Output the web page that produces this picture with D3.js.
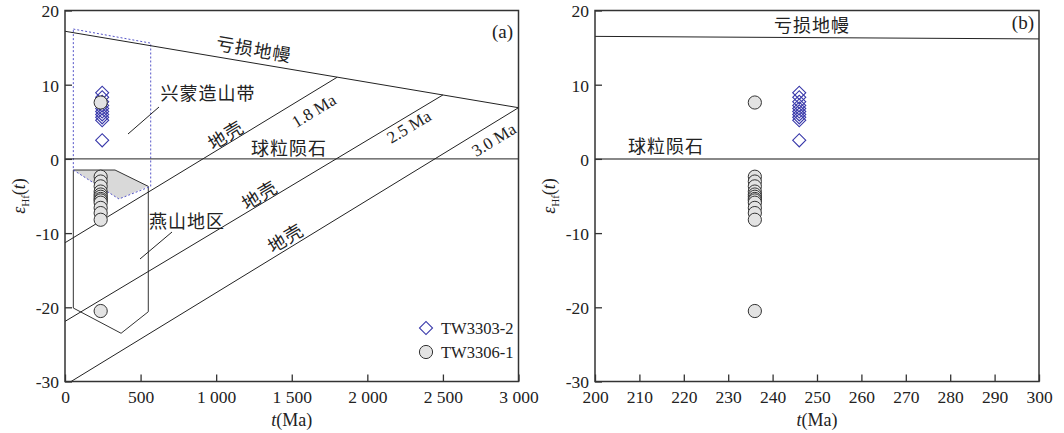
<!DOCTYPE html>
<html><head><meta charset="utf-8">
<script src="https://cdn.jsdelivr.net/npm/d3@7"></script>
<style>
body{margin:0;background:#fff;}
svg{display:block;}
.tick text{font-family:"Liberation Serif","Times New Roman",serif;font-size:17.5px;fill:#222;}
.cn{font-family:"Noto Sans CJK SC",sans-serif;fill:#222;letter-spacing:1px;}
.en{font-family:"Liberation Serif","Times New Roman",serif;fill:#222;}
</style></head>
<body>
<script>
// ---------- data ----------
const tw3303Age = 246;              // Ma
const tw3303Eps = [8.9, 8.3, 7.7, 7.2, 6.8, 6.4, 6.0, 5.6, 5.2, 2.5];
const tw3306Age = 236;              // Ma
const tw3306Eps = [7.6, -2.4, -3.05, -3.7, -4.4, -4.8, -5.1, -5.4, -5.6, -5.9, -6.6, -7.3, -8.2, -20.5];

const dmLine   = [[0, 17.2], [3000, 6.9]];          // depleted mantle
const chur     = [[0, 0], [3000, 0]];
const crust18  = [[0, -11.3], [1800, 11.0]];
const crust25  = [[0, -21.9], [2500, 8.62]];
const crust30  = [[40, -30], [3000, 6.9]];

const xingmengPoly = [[55, 17.5], [567, 15.6], [567, -3.7], [357, -5.4], [55, -1.5]];
const yanshanPoly  = [[55, -1.5], [331, -1.5], [551, -3.7], [551, -20.6], [371, -23.5], [55, -20.1]];
const overlapPoly  = [[55, -1.5], [331, -1.5], [551, -3.7], [357, -5.4]];

const xTicksA = [0, 500, 1000, 1500, 2000, 2500, 3000];
const xTicksB = [200, 210, 220, 230, 240, 250, 260, 270, 280, 290, 300];
const yTicks  = [20, 10, 0, -10, -20, -30];
const legendNames = ["TW3303-2", "TW3306-1"];

// ---------- layout ----------
const W = 1064, H = 433;
const svg = d3.select("body").append("svg").attr("width", W).attr("height", H);
const yTop = 10.5, yBot = 381.5;

function fmt(d){ return d >= 1000 ? d3.format(",")(d).replace(",", " ") : String(d); }

function makePanel(x0, x1, xDomain, xTicks){
  const x = d3.scaleLinear().domain(xDomain).range([x0, x1]);
  const y = d3.scaleLinear().domain([-30, 20]).range([yBot, yTop]);
  const g = svg.append("g");
  const clipId = "c" + Math.round(x0);
  svg.append("clipPath").attr("id", clipId).append("rect")
    .attr("x", x0).attr("y", yTop).attr("width", x1 - x0).attr("height", yBot - yTop);
  const plot = g.append("g").attr("clip-path", `url(#${clipId})`);
  const ax = g.append("g").attr("transform", `translate(0,${yBot})`)
    .call(d3.axisBottom(x).tickValues(xTicks).tickSize(-7).tickPadding(9).tickFormat(fmt));
  const ay = g.append("g").attr("transform", `translate(${x0},0)`)
    .call(d3.axisLeft(y).tickValues(yTicks).tickSize(-7).tickPadding(6).tickFormat(d => String(d)));
  [ax, ay].forEach(a => { a.select(".domain").remove(); a.selectAll(".tick line").attr("stroke", "#333").attr("stroke-width", 1.3); });
  ay.selectAll(".tick text").attr("dy", "0.36em");
  g.append("rect").attr("x", x0).attr("y", yTop).attr("width", x1 - x0).attr("height", yBot - yTop)
    .attr("fill", "none").attr("stroke", "#333").attr("stroke-width", 1.5);
  const xt = g.append("text").attr("class", "en").attr("x", (x0 + x1) / 2).attr("y", 426)
    .attr("text-anchor", "middle").attr("font-size", 18);
  xt.append("tspan").attr("font-style", "italic").text("t");
  xt.append("tspan").text("(Ma)");
  const yt = g.append("text").attr("class", "en").attr("transform", `translate(${x0 - 40},196) rotate(-90)`)
    .attr("text-anchor", "middle").attr("font-size", 18);
  yt.append("tspan").attr("font-style", "italic").text("ε");
  yt.append("tspan").attr("font-size", 11).attr("dy", 4).text("Hf");
  yt.append("tspan").attr("dy", -4).text("(");
  yt.append("tspan").attr("font-style", "italic").text("t");
  yt.append("tspan").text(")");
  return {x, y, g, plot};
}

const line = (s) => d3.line().x(d => s.x(d[0])).y(d => s.y(d[1]));
const diamondPath = d3.symbol().type(d3.symbolSquare).size(85);

function drawPoints(P, layer){
  layer.selectAll(".dm").data(tw3303Eps).join("path")
    .attr("d", diamondPath).attr("transform", d => `translate(${P.x(tw3303Age)},${P.y(d)}) rotate(45)`)
    .attr("fill", "none").attr("stroke", "#3b3bab").attr("stroke-width", 1.1);
  layer.selectAll(".ci").data(tw3306Eps).join("circle")
    .attr("cx", P.x(tw3306Age)).attr("cy", d => P.y(d)).attr("r", 6.6)
    .attr("fill", "#e3e3e3").attr("stroke", "#333").attr("stroke-width", 1);
}

// ---------- panel (a) ----------
const A = makePanel(65, 518.5, [0, 3000], xTicksA);
const poly = d3.line().x(d => A.x(d[0])).y(d => A.y(d[1])).curve(d3.curveLinearClosed);
A.plot.append("path").attr("d", poly(overlapPoly)).attr("fill", "#d9d9d9").attr("stroke", "none");
A.plot.append("path").attr("d", poly(yanshanPoly)).attr("fill", "none").attr("stroke", "#333").attr("stroke-width", 1);
A.plot.append("path").attr("d", poly(xingmengPoly)).attr("fill", "none").attr("stroke", "#5555c8").attr("stroke-width", 1).attr("stroke-dasharray", "2,2");
[dmLine, chur, crust18, crust25, crust30].forEach(l =>
  A.plot.append("path").attr("d", line(A)(l)).attr("fill", "none").attr("stroke", "#222").attr("stroke-width", 1));
drawPoints(A, A.plot);

function angle(P, l){ return Math.atan2(P.y(l[1][1]) - P.y(l[0][1]), P.x(l[1][0]) - P.x(l[0][0])) * 180 / Math.PI; }
function label(g, cls, txt, x, y, ang, size){
  g.append("text").attr("class", cls).attr("x", 0).attr("y", 0).attr("text-anchor", "middle")
    .attr("dominant-baseline", "central").attr("font-size", size)
    .attr("transform", `translate(${x},${y}) rotate(${ang})`).text(txt);
}
const aDM = angle(A, dmLine), aCr = angle(A, crust25);
label(A.g, "cn", "亏损地幔", 254, 48, aDM, 18);
label(A.g, "cn", "球粒陨石", 289, 147, 0, 18);
label(A.g, "cn", "地壳", 225, 134, angle(A, crust18), 18);
label(A.g, "cn", "地壳", 259, 194, aCr, 18);
label(A.g, "cn", "地壳", 285, 237, aCr, 18);
label(A.g, "en", "1.8 Ma", 314, 111, angle(A, crust18), 17);
label(A.g, "en", "2.5 Ma", 409, 127, aCr, 17);
label(A.g, "en", "3.0 Ma", 494, 140, angle(A, crust30), 17);
label(A.g, "cn", "兴蒙造山带", 208, 92, 0, 18);
label(A.g, "cn", "燕山地区", 187, 220, 0, 18);
A.g.append("line").attr("x1", 128).attr("y1", 134).attr("x2", 159).attr("y2", 107).attr("stroke", "#222");
A.g.append("line").attr("x1", 140).attr("y1", 259).attr("x2", 172).attr("y2", 232).attr("stroke", "#222");
A.g.append("text").attr("class", "en").attr("x", 513).attr("y", 38).attr("text-anchor", "end").attr("font-size", 19).text("(a)");

// legend
const lg = A.g.append("g");
lg.append("path").attr("d", diamondPath).attr("transform", "translate(426,328) rotate(45)")
  .attr("fill", "none").attr("stroke", "#3b3bab").attr("stroke-width", 1.1);
lg.append("circle").attr("cx", 426).attr("cy", 352).attr("r", 6.6).attr("fill", "#e3e3e3").attr("stroke", "#333");
legendNames.forEach((n, i) => lg.append("text").attr("class", "en").attr("x", 441).attr("y", 328 + i * 24)
  .attr("dy", "0.35em").attr("font-size", 16.5).text(n));

// ---------- panel (b) ----------
const B = makePanel(595, 1039, [200, 300], xTicksB);
B.plot.append("path").attr("d", line(B)(dmLine)).attr("fill", "none").attr("stroke", "#222").attr("stroke-width", 1);
B.plot.append("path").attr("d", line(B)(chur)).attr("fill", "none").attr("stroke", "#888").attr("stroke-width", 2);
drawPoints(B, B.plot);
label(B.g, "cn", "亏损地幔", 812, 24, 0, 18);
label(B.g, "cn", "球粒陨石", 666, 145, 0, 18);
B.g.append("text").attr("class", "en").attr("x", 1034).attr("y", 29).attr("text-anchor", "end").attr("font-size", 19).text("(b)");
</script>
</body></html>
